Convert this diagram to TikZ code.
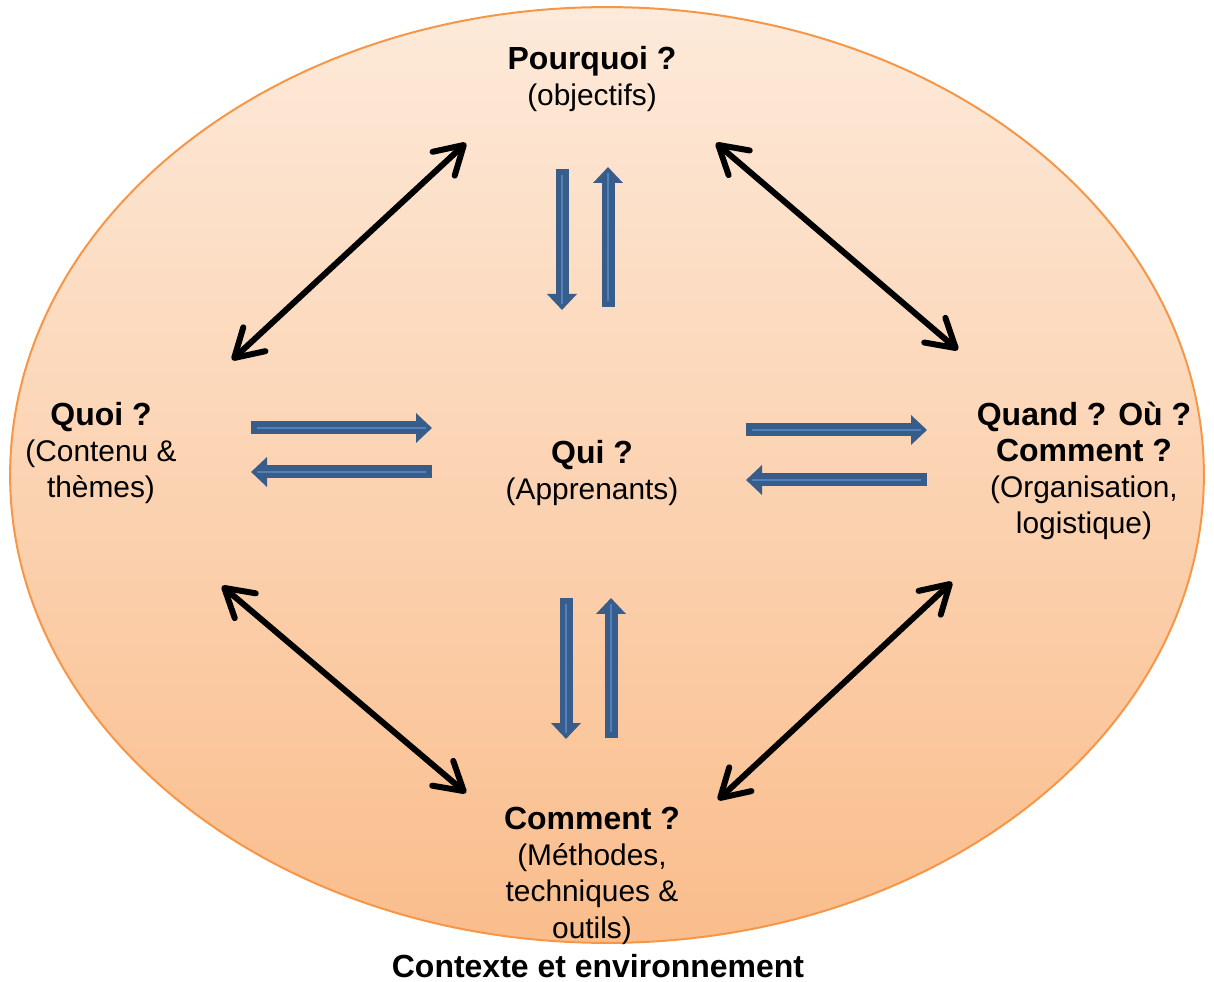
\documentclass[tikz,border=0pt]{standalone}
\usepackage{fontspec}
\setmainfont{Liberation Sans}
\usetikzlibrary{arrows.meta}

\definecolor{ovalline}{RGB}{247,150,70}
\definecolor{ovaltop}{RGB}{253,234,218}
\definecolor{ovalbottom}{RGB}{250,189,140}
\definecolor{bluedark}{RGB}{56,93,138}
\definecolor{bluelight}{RGB}{79,129,189}

\newcommand{\qbold}[1]{{\fontsize{18.2}{20.5}\selectfont\bfseries #1}}

\tikzset{
    dblpil/.style={ {Straight Barb[length=0.55cm, width=0.65cm, round]}-{Straight Barb[length=0.55cm, width=0.65cm, round]}, line width=0.12cm, draw=black, line cap=round},
    blockpil/.style={ -{Triangle[length=0.32cm, width=0.58cm]}, line width=0.26cm, draw=bluedark,
        postaction={draw=bluelight, line width=0.05cm, -, shorten >=0.12cm, shorten <=0.12cm}},
    txt/.style={align=center, inner sep=0pt, anchor=base, font=\fontsize{17}{20.5}\selectfont},
  }

\begin{document}
\begin{tikzpicture}[x=0.02cm, y=-0.02cm]

\useasboundingbox (0,0) rectangle (1214,982);

% context oval
  \draw[ovalline, line width=0.04cm, top color=ovaltop, bottom color=ovalbottom] (607,475) ellipse [x radius=11.94cm, y radius=9.36cm];

% questions (placed at the baseline of their last line)
  \node[txt] (pourquoi) at (592,106)  {\qbold{Pourquoi ?}\\(objectifs)};
  \node[txt] (quoi)     at (101,498) {\qbold{Quoi ?}\\(Contenu \&\\thèmes)};
  \node[txt] (qui)      at (592,500) {\qbold{Qui ?}\\(Apprenants)};
  \node[txt] (quand)    at (1084,534) {\qbold{Quand ? Où ?}\\\qbold{Comment ?}\\(Organisation,\\logistique)};
  \node[txt] (comment)  at (592,938) {\qbold{Comment ?}\\(Méthodes,\\techniques \&\\outils)};
  \node[txt] (contexte) at (598,977) {\qbold{Contexte et environnement}};

% ends of the black arrows
  \coordinate (quoiN)    at (232,360);
  \coordinate (pourW)    at (466,143);
  \coordinate (pourE)    at (716,143);
  \coordinate (quandN)   at (958,350);
  \coordinate (quoiS)    at (222,586);
  \coordinate (commW)    at (466,793);
  \coordinate (quandS)   at (952,582);
  \coordinate (commE)    at (718,800);

   \draw[dblpil] (quoiN) -- (pourW);
   \draw[dblpil] (pourE) -- (quandN);
   \draw[dblpil] (quoiS) -- (commW);
   \draw[dblpil] (quandS) -- (commE);

% ends of the blue arrows (around qui)
  \coordinate (p1) at (562,169);  \coordinate (p2) at (562,310);
  \coordinate (p3) at (608,307);  \coordinate (p4) at (608,167);
  \coordinate (q1) at (251,428);  \coordinate (q2) at (432,428);
  \coordinate (q3) at (432,472);  \coordinate (q4) at (251,472);
  \coordinate (r1) at (746,430);  \coordinate (r2) at (927,430);
  \coordinate (r3) at (927,480);  \coordinate (r4) at (746,480);
  \coordinate (c1) at (566,598);  \coordinate (c2) at (566,739);
  \coordinate (c3) at (611,738);  \coordinate (c4) at (611,598);

   \draw[blockpil] (p1) -- (p2);
   \draw[blockpil] (p3) -- (p4);
   \draw[blockpil] (q1) -- (q2);
   \draw[blockpil] (q3) -- (q4);
   \draw[blockpil] (r1) -- (r2);
   \draw[blockpil] (r3) -- (r4);
   \draw[blockpil] (c1) -- (c2);
   \draw[blockpil] (c3) -- (c4);

\end{tikzpicture}
\end{document}
